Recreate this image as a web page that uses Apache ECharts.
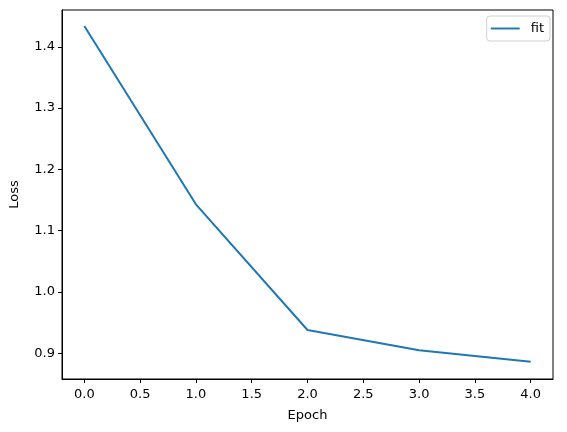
<!DOCTYPE html>
<html><head><meta charset="utf-8">
<script src="https://cdn.jsdelivr.net/npm/echarts@6/dist/echarts.min.js"></script>
<style>html,body{margin:0;padding:0;background:#fff}#c{width:567px;height:432px}</style>
</head><body><div id="c"></div>
<script>
const epochs = [0, 1, 2, 3, 4];
const loss = [1.434, 1.143, 0.938, 0.905, 0.886];
const xTicks = [0, 0.5, 1, 1.5, 2, 2.5, 3, 3.5, 4];
const yTicks = [0.9, 1.0, 1.1, 1.2, 1.3, 1.4];
const seriesName = 'fit';

const font = 'DejaVu Sans';
const chart = echarts.init(document.getElementById('c'), null, {renderer: 'canvas'});
chart.setOption({
  animation: false,
  backgroundColor: '#fff',
  grid: {left: 61, right: 14, top: 10, bottom: 53, show: true, borderColor: '#000', borderWidth: 1, backgroundColor: 'transparent'},
  legend: {
    data: [seriesName], right: 17, top: 16, orient: 'vertical',
    itemWidth: 29, itemHeight: 10, itemGap: 4,
    icon: 'path://M0,4L30,4L30,6L0,6Z',
    textStyle: {fontFamily: font, fontSize: 13, color: '#000', padding: [0, 0, 0, 6]},
    borderColor: '#d0d0d0', borderWidth: 1, borderRadius: 3, padding: [6, 6, 6, 4],
    backgroundColor: 'rgba(255,255,255,0.8)'
  },
  xAxis: {
    type: 'value', min: -0.2, max: 4.2,
    name: 'Epoch', nameLocation: 'middle', nameGap: 30,
    nameTextStyle: {fontFamily: font, fontSize: 13, color: '#000'},
    splitLine: {show: false},
    axisLine: {show: true, onZero: false, lineStyle: {color: '#000', width: 1}},
    axisTick: {show: true, inside: false, length: 4, lineStyle: {color: '#000'}, customValues: xTicks},
    axisLabel: {fontFamily: font, fontSize: 13, color: '#000', margin: 9, customValues: xTicks, formatter: v => v.toFixed(1)}
  },
  yAxis: {
    type: 'value', min: 0.858, max: 1.46,
    name: 'Loss', nameLocation: 'middle', nameRotate: 90, nameGap: 41,
    nameTextStyle: {fontFamily: font, fontSize: 13, color: '#000'},
    splitLine: {show: false},
    axisLine: {show: true, onZero: false, lineStyle: {color: '#000', width: 1}},
    axisTick: {show: true, inside: false, length: 4, lineStyle: {color: '#000'}, customValues: yTicks},
    axisLabel: {fontFamily: font, fontSize: 13, color: '#000', margin: 7, customValues: yTicks, formatter: v => v.toFixed(1)}
  },
  series: [{
    name: seriesName, type: 'line',
    data: epochs.map((e, i) => [e, loss[i]]),
    showSymbol: false, symbol: 'none',
    lineStyle: {color: '#1f77b4', width: 2},
    itemStyle: {color: '#1f77b4'}
  }]
});
</script></body></html>
